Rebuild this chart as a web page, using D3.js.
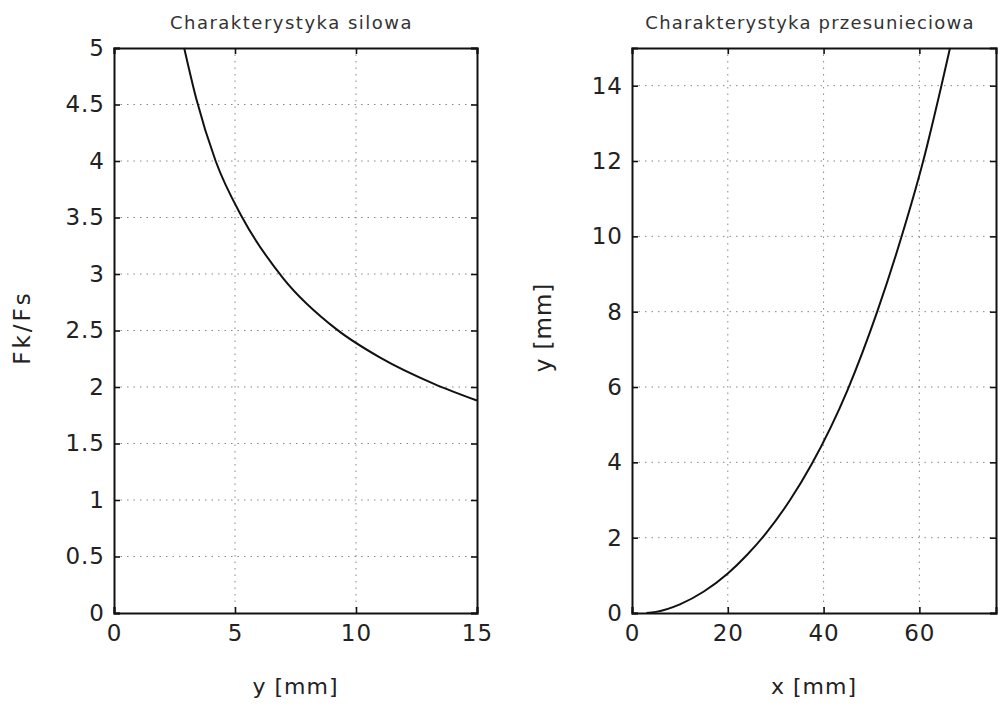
<!DOCTYPE html>
<html>
<head>
<meta charset="utf-8">
<script src="https://cdn.jsdelivr.net/npm/d3@7"></script>
<style>
  body { margin: 0; background: #fff; }
  svg { font-family: "DejaVu Sans", "Open Sans", sans-serif; }
  .grid line { stroke: #888; stroke-dasharray: 1.5 5; stroke-width: 1; }
</style>
</head>
<body>
<svg id="chart" width="1008" height="706"></svg>
<script>
// left panel: Fk/Fs against y [mm]
var forceY = [2.9, 3.4, 4.2, 5.3, 7.0, 9.2, 11.0, 13.2, 15.0];
var forceRatio = [5.0, 4.55, 4.0, 3.5, 2.96, 2.51, 2.26, 2.03, 1.88];
var forceXTicks = [0, 5, 10, 15];
var forceYTicks = [0, 0.5, 1, 1.5, 2, 2.5, 3, 3.5, 4, 4.5, 5];

// right panel: y [mm] against x [mm]
var shiftX = [3, 5, 10, 15, 20, 24, 28, 33, 37.5, 45, 51.2, 56.3, 60.8, 64.6, 66.4];
var shiftY = [0, 0.03, 0.23, 0.57, 1.05, 1.54, 2.12, 3.0, 3.95, 5.92, 8.0, 10.0, 12.0, 14.0, 15.0];
var shiftXTicks = [0, 20, 40, 60];
var shiftYTicks = [0, 2, 4, 6, 8, 10, 12, 14];

var svg = d3.select("#chart");

function panel(opt) {
  var x = d3.scaleLinear().domain(opt.xDomain).range([opt.left, opt.right]);
  var y = d3.scaleLinear().domain(opt.yDomain).range([opt.bottom, opt.top]);
  var g = svg.append("g");

  // dotted grid
  var grid = g.append("g").attr("class", "grid");
  grid.selectAll("line.v")
    .data(opt.xTicks.filter(function(d) { return d > opt.xDomain[0] && d < opt.xDomain[1]; }))
    .enter().append("line")
    .attr("x1", x).attr("x2", x)
    .attr("y1", opt.top).attr("y2", opt.bottom);
  grid.selectAll("line.h")
    .data(opt.yTicks.filter(function(d) { return d > opt.yDomain[0] && d < opt.yDomain[1]; }))
    .enter().append("line")
    .attr("y1", y).attr("y2", y)
    .attr("x1", opt.left).attr("x2", opt.right);

  // axes, ticks pointing inward, mirrored on top/right
  g.append("g").attr("transform", "translate(0," + opt.bottom + ")")
    .call(d3.axisBottom(x).tickValues(opt.xTicks).tickSize(-6).tickPadding(12).tickFormat(d3.format("")))
    .call(styleAxis);
  g.append("g").attr("transform", "translate(0," + opt.top + ")")
    .call(d3.axisTop(x).tickValues(opt.xTicks).tickSize(-6).tickFormat(""))
    .call(styleAxis);
  g.append("g").attr("transform", "translate(" + opt.left + ",0)")
    .call(d3.axisLeft(y).tickValues(opt.yTicks).tickSize(-6).tickPadding(9).tickFormat(d3.format("")))
    .call(styleAxis);
  g.append("g").attr("transform", "translate(" + opt.right + ",0)")
    .call(d3.axisRight(y).tickValues(opt.yTicks).tickSize(-6).tickFormat(""))
    .call(styleAxis);

  function styleAxis(sel) {
    sel.select(".domain").attr("stroke", "#111").attr("stroke-width", 2);
    sel.selectAll(".tick line").attr("stroke", "#111").attr("stroke-width", 1.6);
    sel.selectAll(".tick text")
      .attr("fill", "#222")
      .style("font-family", "DejaVu Sans")
      .style("font-size", "23px")
      .style("letter-spacing", "1px");
  }

  // the curve
  var line = d3.line()
    .x(function(d) { return x(d[0]); })
    .y(function(d) { return y(d[1]); })
    .curve(d3.curveMonotoneX);
  g.append("path")
    .datum(d3.zip(opt.xs, opt.ys))
    .attr("fill", "none")
    .attr("stroke", "#111")
    .attr("stroke-width", 2)
    .attr("d", line);

  var cx = (opt.left + opt.right) / 2;
  g.append("text")
    .attr("x", cx - 4).attr("y", 29)
    .attr("text-anchor", "middle")
    .style("font-size", "18px")
    .style("letter-spacing", opt.titleSpacing)
    .attr("fill", "#333")
    .text(opt.title);
  g.append("text")
    .attr("x", cx).attr("y", 694)
    .attr("text-anchor", "middle")
    .style("font-size", "22px")
    .style("letter-spacing", "1px")
    .attr("fill", "#222")
    .text(opt.xLabel);
  g.append("text")
    .attr("transform", "translate(" + opt.yLabelX + "," + ((opt.top + opt.bottom) / 2 - 3) + ") rotate(-90)")
    .attr("text-anchor", "middle")
    .style("font-size", "23px")
    .style("letter-spacing", opt.yLabelSpacing)
    .attr("fill", "#222")
    .text(opt.yLabel);
}

panel({
  left: 114, right: 477, top: 48, bottom: 613,
  xDomain: [0, 15], yDomain: [0, 5],
  xTicks: forceXTicks, yTicks: forceYTicks,
  xs: forceY, ys: forceRatio,
  title: "Charakterystyka silowa", titleSpacing: "1.5px",
  xLabel: "y [mm]", yLabel: "Fk/Fs", yLabelX: 30, yLabelSpacing: "3px"
});

panel({
  left: 632, right: 996, top: 48, bottom: 613,
  xDomain: [0, 76], yDomain: [0, 15],
  xTicks: shiftXTicks, yTicks: shiftYTicks,
  xs: shiftX, ys: shiftY,
  title: "Charakterystyka przesunieciowa", titleSpacing: "1.2px",
  xLabel: "x [mm]", yLabel: "y [mm]", yLabelX: 551, yLabelSpacing: "1px"
});
</script>
</body>
</html>
